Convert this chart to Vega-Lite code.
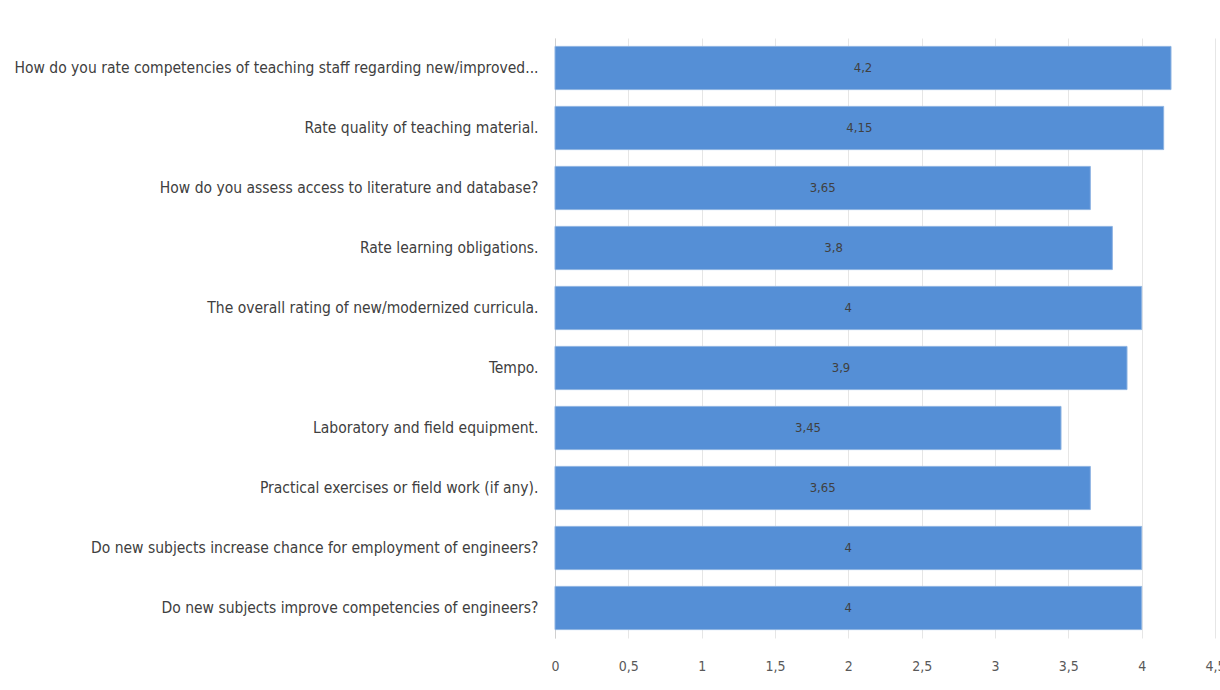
{
  "$schema": "https://vega.github.io/schema/vega-lite/v6.json",
  "width": 660,
  "height": 600,
  "autosize": {"type": "none"},
  "padding": {"left": 555, "top": 38, "right": 5, "bottom": 52},
  "background": "white",
  "config": {
    "locale": {"number": {"decimal": ",", "thousands": ".", "grouping": [3], "currency": ["", " €"]}},
    "view": {"stroke": null},
    "font": "DejaVu Sans Condensed"
  },
  "data": {
    "values": [
      {"q": "How do you rate competencies of teaching staff regarding new/improved...", "v": 4.2},
      {"q": "Rate quality of teaching material.", "v": 4.15},
      {"q": "How do you assess access to literature and database?", "v": 3.65},
      {"q": "Rate learning obligations.", "v": 3.8},
      {"q": "The overall rating of new/modernized curricula.", "v": 4},
      {"q": "Tempo.", "v": 3.9},
      {"q": "Laboratory and field equipment.", "v": 3.45},
      {"q": "Practical exercises or field work (if any).", "v": 3.65},
      {"q": "Do new subjects increase chance for employment of engineers?", "v": 4},
      {"q": "Do new subjects improve competencies of engineers?", "v": 4}
    ]
  },
  "encoding": {
    "y": {
      "field": "q", "type": "nominal", "sort": null, "title": null,
      "scale": {"paddingInner": 0.28, "paddingOuter": 0.14},
      "axis": {
        "labelFont": "DejaVu Sans Condensed", "labelFontSize": 15.5, "labelColor": "#404040",
        "labelLimit": 600, "labelPadding": 17, "ticks": false,
        "domain": true, "domainColor": "#d0d0d0", "domainWidth": 1
      }
    }
  },
  "layer": [
    {
      "mark": {"type": "bar", "color": "#558fd6", "stroke": "#8db3e2", "strokeWidth": 1},
      "encoding": {
        "x": {
          "field": "v", "type": "quantitative", "title": null,
          "scale": {"domain": [0, 4.5], "nice": false, "zero": true},
          "axis": {
            "values": [0, 0.5, 1, 1.5, 2, 2.5, 3, 3.5, 4, 4.5],
            "format": "~g", "grid": true, "gridColor": "#e6e6e6", "gridWidth": 1,
            "domain": false, "ticks": false,
            "labelFont": "DejaVu Sans Condensed", "labelFontSize": 14, "labelColor": "#595959",
            "labelPadding": 21, "labelFlush": false
          }
        }
      }
    },
    {
      "mark": {"type": "text", "font": "DejaVu Sans Condensed", "fontSize": 13, "color": "#404040", "align": "center", "baseline": "middle"},
      "encoding": {
        "x": {
          "field": "v", "type": "quantitative", "axis": null,
          "scale": {"domain": [0, 9], "nice": false, "zero": true}
        },
        "text": {"field": "v", "type": "quantitative", "format": "~g"}
      }
    }
  ],
  "resolve": {"scale": {"x": "independent"}}
}
